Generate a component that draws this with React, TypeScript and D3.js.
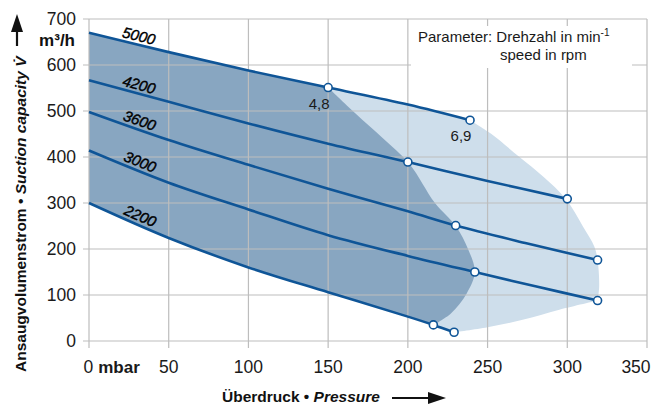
import React from 'react';
import * as d3 from 'd3';

type P = [number, number];

const W = 658;
const H = 407;

const xTickValues = [0, 50, 100, 150, 200, 250, 300, 350];
const xTickLabels = ['0', '50', '100', '150', '200', '250', '300', '350'];
const yTickValues = [0, 100, 200, 300, 400, 500, 600, 700];
const yTickLabels = ['0', '100', '200', '300', '400', '500', '600', '700'];

const speeds = ['5000', '4200', '3600', '3000', '2200'];
const curve5000: P[] = [[0, 670], [50, 628], [100, 588], [150, 551], [200, 514], [239, 480]];
const curve4200: P[] = [[0, 567], [50, 520], [100, 473], [150, 429], [200, 389], [250, 348], [300, 309]];
const curve3600: P[] = [[0, 498], [50, 437], [100, 383], [150, 331], [200, 282], [230, 251], [275, 212], [319, 176]];
const curve3000: P[] = [[0, 414], [50, 344], [100, 286], [150, 230], [200, 185], [242, 150], [280, 119], [319, 88]];
const curve2200: P[] = [[0, 300], [50, 224], [100, 160], [150, 106], [200, 53], [216, 35], [229, 19]];
const curves = [curve5000, curve4200, curve3600, curve3000, curve2200];
const markerPressures = [[150, 239], [200, 300], [230, 319], [242, 319], [216, 229]];
const pointLabelTexts = ['4,8', '6,9'];
const pointLabelPressures = [150, 239];

const darkEdge: P[] = [[150, 551], [167, 495], [184, 442], [201, 385], [217, 300], [230, 250], [238, 198], [242, 150], [237, 104], [227, 60], [216, 35]];
const lightEdge: P[] = [[239, 480], [252, 451], [270, 400], [285, 357], [299, 309], [310, 248], [317, 205], [319, 176], [320, 118], [319, 88]];
const lightBottom: P[] = [[319, 88], [295, 68], [272, 46], [250, 30], [229, 19]];

const LINE = '#0f5597';
const DARK = '#88a6c1';
const LIGHT = '#cedeeb';
const GRID = '#bdbdbd';
const FONT = '"Liberation Sans", Arial, Helvetica, sans-serif';

const x = d3.scaleLinear().domain([0, 350]).range([89, 647]);
const y = d3.scaleLinear().domain([0, 700]).range([341, 19]);
const line = d3
  .line<P>()
  .x((d) => x(d[0]))
  .y((d) => y(d[1]))
  .curve(d3.curveCatmullRom.alpha(0.5));

const seg = (pts: P[]) => line(pts) as string;
const join = (...segs: string[]) =>
  segs.map((s, i) => (i === 0 ? s : 'L' + s.slice(1))).join('') + 'Z';

function interp(curve: P[], p: number): number {
  for (let i = 0; i < curve.length - 1; i++) {
    const a = curve[i];
    const b = curve[i + 1];
    if (p >= a[0] && p <= b[0]) {
      const t = (p - a[0]) / (b[0] - a[0]);
      return a[1] + t * (b[1] - a[1]);
    }
  }
  return curve[curve.length - 1][1];
}

export default function App() {
  const darkPath = join(
    seg(curve5000.filter((p) => p[0] <= 150)),
    seg(darkEdge),
    seg(curve2200.filter((p) => p[0] <= 216).slice().reverse())
  );
  const lightPath = join(
    seg(curve5000.filter((p) => p[0] >= 150)),
    seg(lightEdge),
    seg(lightBottom),
    seg(curve2200.filter((p) => p[0] >= 150 && p[0] <= 229).slice().reverse())
  );

  const labelP = 30;
  const labels = curves.map((c, i) => {
    const v = interp(c, labelP);
    const px = x(labelP);
    const py = y(v);
    const ang = Math.atan2(y(interp(c, 50)) - y(interp(c, 0)), x(50) - x(0));
    const off = 9;
    const cx = px + off * Math.sin(ang);
    const cy = py - off * Math.cos(ang);
    return { text: speeds[i], cx, cy, deg: (ang * 180) / Math.PI };
  });

  return (
    <svg
      width={W}
      height={H}
      viewBox={`0 0 ${W} ${H}`}
      style={{ position: 'absolute', left: 0, top: 0, display: 'block', background: '#fff' }}
      fontFamily={FONT}
    >
      <rect x={0} y={0} width={W} height={H} fill="#fff" />
      <path d={lightPath} fill={LIGHT} />
      <path d={darkPath} fill={DARK} />

      {/* grid */}
      <g stroke={GRID} strokeWidth={1.2}>
        {xTickValues.map((v) => (
          <line key={'gx' + v} x1={x(v)} x2={x(v)} y1={y(700)} y2={y(0) + 7} />
        ))}
        {yTickValues.map((v) => (
          <line key={'gy' + v} x1={x(0) - 6} x2={x(350)} y1={y(v)} y2={y(v)} />
        ))}
      </g>

      {/* legend box */}
      <rect x={411} y={26} width={221} height={42} fill="#fff" />
      <text x={418} y={42} fontSize={15} fill="#1a1a1a">
        Parameter: Drehzahl in min
        <tspan fontSize={10} dy={-6}>-1</tspan>
      </text>
      <text x={500} y={60} fontSize={15} fill="#1a1a1a">
        speed in rpm
      </text>

      {/* curves */}
      {curves.map((c, i) => (
        <path key={'c' + i} d={seg(c)} fill="none" stroke={LINE} strokeWidth={2.6} />
      ))}

      {/* markers */}
      {curves.map((c, i) =>
        markerPressures[i].map((p) => (
          <circle
            key={'m' + i + '-' + p}
            cx={x(p)}
            cy={y(interp(c, p))}
            r={4}
            fill="#fff"
            stroke={LINE}
            strokeWidth={1.6}
          />
        ))
      )}

      {/* curve labels */}
      {labels.map((l) => (
        <text
          key={'l' + l.text}
          transform={`translate(${l.cx},${l.cy}) rotate(${l.deg})`}
          textAnchor="middle"
          dominantBaseline="central"
          fontSize={15}
          fontStyle="italic"
          fill="#000"
          stroke="#000"
          strokeWidth={0.4}
        >
          {l.text}
        </text>
      ))}

      {/* point labels */}
      {pointLabelTexts.map((t, i) => (
        <text
          key={'pl' + t}
          x={x(pointLabelPressures[i]) - 9}
          y={y(interp(curve5000, pointLabelPressures[i])) + 21}
          textAnchor="middle"
          fontSize={15}
          fill="#1a1a1a"
        >
          {t}
        </text>
      ))}

      {/* y tick labels */}
      {yTickValues.map((v, i) => (
        <text key={'yl' + v} x={76} y={y(v) + 6} textAnchor="end" fontSize={17.5} fill="#1a1a1a">
          {yTickLabels[i]}
        </text>
      ))}
      <text x={75} y={46} textAnchor="end" fontSize={17} fontWeight="bold" fill="#111">
        m³/h
      </text>

      {/* x tick labels */}
      {xTickValues.map((v, i) =>
        i === 0 ? (
          <text key={'xl' + v} x={x(v) - 5.5} y={373} fontSize={17.5} fill="#1a1a1a">
            {xTickLabels[i]}
            <tspan dx={5} fontWeight="bold" fontSize={17}>mbar</tspan>
          </text>
        ) : (
          <text
            key={'xl' + v}
            x={i === xTickValues.length - 1 ? x(v) - 11 : x(v)}
            y={373}
            textAnchor="middle"
            fontSize={17.5}
            fill="#1a1a1a"
          >
            {xTickLabels[i]}
          </text>
        )
      )}

      {/* x title */}
      <text x={222} y={402} fontSize={15.5} fontWeight="bold" fill="#111">
        Überdruck • <tspan fontStyle="italic">Pressure</tspan>
      </text>
      <line x1={392} x2={430} y1={398} y2={398} stroke="#111" strokeWidth={2.2} />
      <path d="M428,392 L446,398 L428,404 Z" fill="#111" />

      {/* y title */}
      <text transform="translate(26,372) rotate(-90)" fontSize={15.5} fontWeight="bold" fill="#111">
        Ansaugvolumenstrom • <tspan fontStyle="italic">Suction capacity V̇</tspan>
      </text>
      <line x1={17} x2={17} y1={46} y2={30} stroke="#111" strokeWidth={2.2} />
      <path d="M11,32 L17,14 L23,32 Z" fill="#111" />
    </svg>
  );
}
